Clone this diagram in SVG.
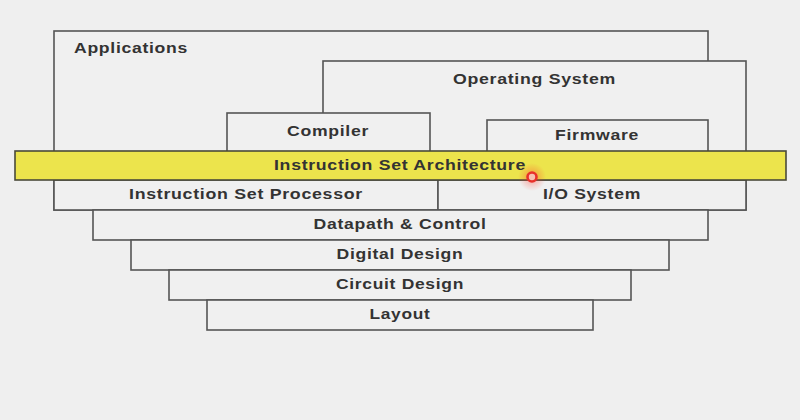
<svg xmlns="http://www.w3.org/2000/svg" width="800" height="420" viewBox="0 0 800 420">
  <defs>
    <style>
      .box { fill: #f0f0f0; stroke: #555; stroke-width: 1.6; }
      .isa { fill: #ece44c; stroke: #4a4a3a; stroke-width: 1.6; }
      .lbl { font-family: "Liberation Sans", Arial, sans-serif; font-size: 15px; font-weight: bold; fill: #333; text-anchor: middle; letter-spacing: 0.6px; }
    </style>
    <radialGradient id="glow" cx="0.5" cy="0.5" r="0.5">
      <stop offset="0" stop-color="#ff3a2a" stop-opacity="0.45"/>
      <stop offset="1" stop-color="#ff3a2a" stop-opacity="0"/>
    </radialGradient>
  </defs>
  <rect x="0" y="0" width="800" height="420" fill="#efefef"/>

  <g id="applications">
    <rect class="box" x="54" y="31" width="654" height="179"/>
    <text class="lbl" x="131" y="53" textLength="114" lengthAdjust="spacingAndGlyphs">Applications</text>
  </g>
  <g id="operating-system">
    <rect class="box" x="323" y="61" width="423" height="149"/>
    <text class="lbl" x="534.5" y="84" textLength="163" lengthAdjust="spacingAndGlyphs">Operating System</text>
  </g>
  <g id="compiler">
    <rect class="box" x="227" y="113" width="203" height="40"/>
    <text class="lbl" x="328" y="136" textLength="82" lengthAdjust="spacingAndGlyphs">Compiler</text>
  </g>
  <g id="firmware">
    <rect class="box" x="487" y="120" width="221" height="33"/>
    <text class="lbl" x="597" y="140" textLength="84" lengthAdjust="spacingAndGlyphs">Firmware</text>
  </g>
  <g id="isp">
    <rect class="box" x="54" y="180" width="384" height="30"/>
    <text class="lbl" x="246" y="199" textLength="234" lengthAdjust="spacingAndGlyphs">Instruction Set Processor</text>
  </g>
  <g id="io-system">
    <rect class="box" x="438" y="180" width="308" height="30"/>
    <text class="lbl" x="592" y="199" textLength="98" lengthAdjust="spacingAndGlyphs">I/O System</text>
  </g>
  <g id="isa">
    <rect class="isa" x="15" y="151" width="771" height="29"/>
    <text class="lbl" x="400" y="170" textLength="252" lengthAdjust="spacingAndGlyphs">Instruction Set Architecture</text>
  </g>
  <g id="datapath">
    <rect class="box" x="93" y="210" width="615" height="30"/>
    <text class="lbl" x="400" y="229" textLength="173" lengthAdjust="spacingAndGlyphs">Datapath &amp; Control</text>
  </g>
  <g id="digital-design">
    <rect class="box" x="131" y="240" width="538" height="30"/>
    <text class="lbl" x="400" y="259" textLength="127" lengthAdjust="spacingAndGlyphs">Digital Design</text>
  </g>
  <g id="circuit-design">
    <rect class="box" x="169" y="270" width="462" height="30"/>
    <text class="lbl" x="400" y="289" textLength="128" lengthAdjust="spacingAndGlyphs">Circuit Design</text>
  </g>
  <g id="layout">
    <rect class="box" x="207" y="300" width="386" height="30"/>
    <text class="lbl" x="400" y="319" textLength="61" lengthAdjust="spacingAndGlyphs">Layout</text>
  </g>
  <g id="connectors"></g>

  <g id="pointer">
    <circle cx="532" cy="177" r="14" fill="url(#glow)"/>
    <circle cx="532" cy="177" r="4.5" fill="#f6c0b0" stroke="#e8302a" stroke-width="2.6"/>
  </g>
</svg>
